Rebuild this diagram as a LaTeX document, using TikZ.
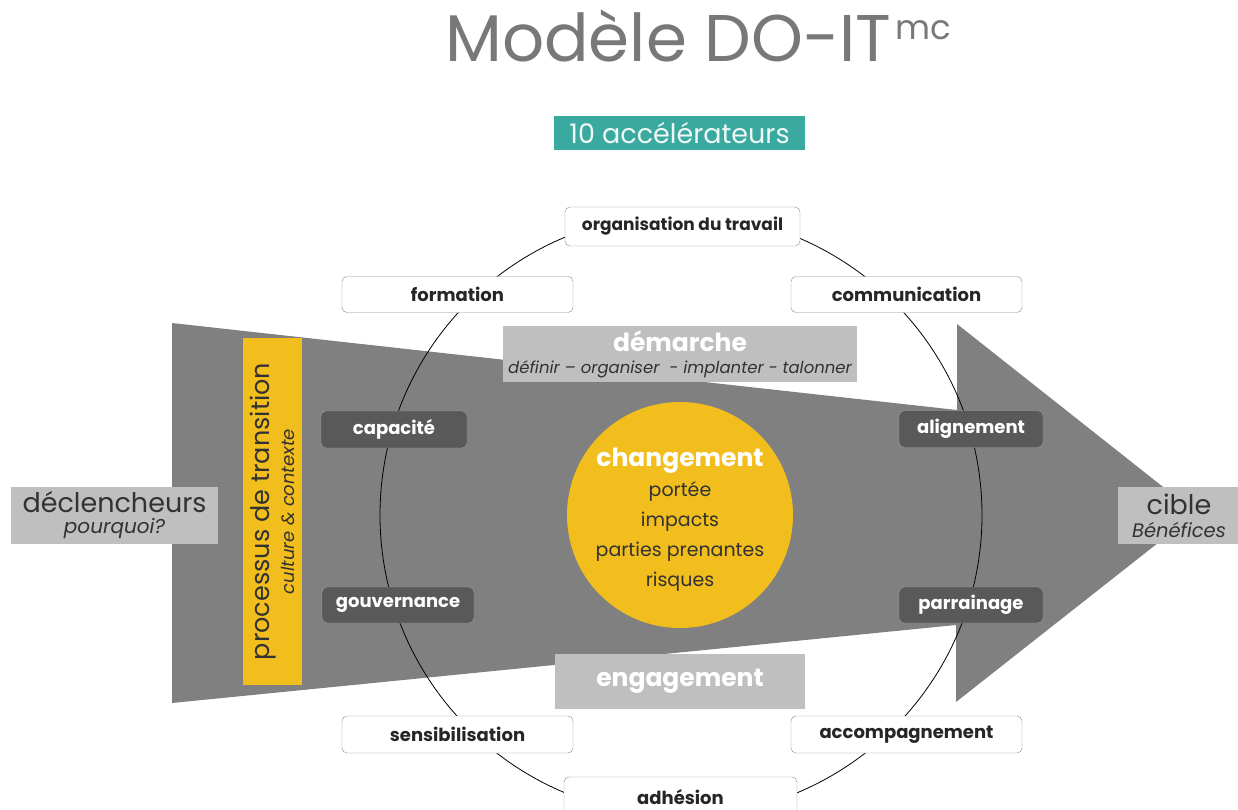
\documentclass[tikz,border=0pt]{standalone}
\usepackage{fontspec}
\setmainfont{Poppins}
\usepackage{xcolor}
\usetikzlibrary{positioning}
\definecolor{arrowgray}{RGB}{128, 128, 128}
\definecolor{lightfill}{RGB}{191, 191, 191}
\definecolor{darkfill}{RGB}{89, 89, 89}
\definecolor{darkline}{RGB}{160, 160, 160}
\definecolor{boxline}{RGB}{140, 140, 140}
\definecolor{doyellow}{RGB}{241, 190, 30}
\definecolor{doteal}{RGB}{58, 170, 160}
\definecolor{titlegray}{RGB}{120, 120, 120}
\definecolor{inktext}{RGB}{50, 50, 50}

\begin{document}
\begin{tikzpicture}[
        x=1pt, y=-1pt,
        box/.style={rectangle, draw=boxline, fill=white, rounded corners=5pt, minimum width=231pt, minimum height=36pt, inner sep=0pt, align=center, text=black!85, font=\fontsize{18}{20}\selectfont\bfseries},
        darkbox/.style={box, fill=darkfill, draw=darkline, text=white, minimum width=146pt},
        greybox/.style={rectangle, fill=lightfill, inner sep=0pt, align=center, text=inktext},
        bigwhite/.style={text=white, font=\fontsize{25}{28}\selectfont\bfseries}
    ]
        \useasboundingbox (0,0) rectangle (1238,810);

        % Big arrow (shaft narrowing, head on the right)
        \fill[arrowgray] (172,323) -- (957,410) -- (957,324) -- (1196,513) -- (956,702) -- (956,625) -- (172,703) -- cycle;

        % Ring of accelerators
        \node[circle, draw, line width=0.8pt, minimum size=602pt, inner sep=0pt] (ring) at (681,515) {};

        % Transition bar
        \node[rectangle, fill=doyellow, minimum width=59pt, minimum height=347pt, inner sep=0pt] (bar) at (272.5,511.5) {};
        \node[rotate=90, align=center, text=inktext, font=\fontsize{18}{25}\selectfont] (trans) at (bar.center) {{\fontsize{25.5}{27}\selectfont processus de transition}\\{\itshape culture \& contexte}};

        % Centre: changement
        \node[circle, fill=doyellow, minimum size=226pt, inner sep=0pt] (chg) at (680,515) {};
        \node[align=center, text=inktext, font=\fontsize{19}{30}\selectfont] (chgtxt) at (680,520) {{\fontsize{25}{30}\selectfont\bfseries\color{white}changement}\\portée\\impacts\\parties prenantes\\risques};

        % Side labels
        \node[greybox, minimum width=207pt, minimum height=57pt, font=\fontsize{20}{21}\selectfont] (decl) at (114.5,515.5) {{\fontsize{27}{27}\selectfont déclencheurs}\\{\itshape pourquoi?}};
        \node[greybox, minimum width=122pt, minimum height=57pt, font=\fontsize{19.5}{23}\selectfont] (cible) at (1179,515.5) {{\fontsize{27}{27}\selectfont cible}\\{\itshape Bénéfices}};

        % Demarche / engagement
        \node[greybox, minimum width=354pt, minimum height=56pt, font=\fontsize{16.5}{22}\selectfont] (dem) at (680,354) {{\fontsize{25}{28}\selectfont\bfseries\color{white}démarche}\\{\itshape définir – organiser\ \ - implanter - talonner}};
        \node[greybox, minimum width=250pt, minimum height=55pt, bigwhite] (eng) at (680,681) {engagement};

        % Accelerators: white boxes
        \node[box, minimum width=235pt, minimum height=39pt, font=\fontsize{17}{20}\selectfont\bfseries] (orga) at (682.5,226.5) {organisation du travail};
        \node[box] (form) at (457.5,294.5) {formation};
        \node[box] (comm) at (906.5,294.5) {communication};
        \node[box, minimum height=37pt] (sens) at (457.5,734.5) {sensibilisation};
        \node[box, minimum height=37pt] (accomp) at (906.5,734.5) {accompagnement};
        \node[box, minimum width=233pt, minimum height=40pt] (adh) at (680.5,797) {adhésion};

        % Accelerators: dark boxes
        \node[darkbox, minimum height=37pt] (capa) at (394,429.5) {capacité};
        \node[darkbox, minimum width=152pt] (gouv) at (398,605) {gouvernance};
        \node[darkbox, minimum width=144pt, minimum height=37pt] (align) at (971,429) {alignement};
        \node[darkbox, minimum width=144pt] (parr) at (971,605) {parrainage};

        % Title
        \node[anchor=base west, inner sep=0pt, text=titlegray, font=\fontsize{66}{66}\selectfont] (title) at (445,62) {Modèle DO-IT\hspace{4pt}{\fontsize{34}{34}\selectfont\raisebox{22pt}{mc}}};
        \node[rectangle, fill=doteal, minimum width=251pt, minimum height=34pt, inner sep=0pt, text=white!92!doteal, font=\fontsize{27}{27}\selectfont] (accel) at (679.5,133) {10 accélérateurs};
    \end{tikzpicture}
\end{document}
